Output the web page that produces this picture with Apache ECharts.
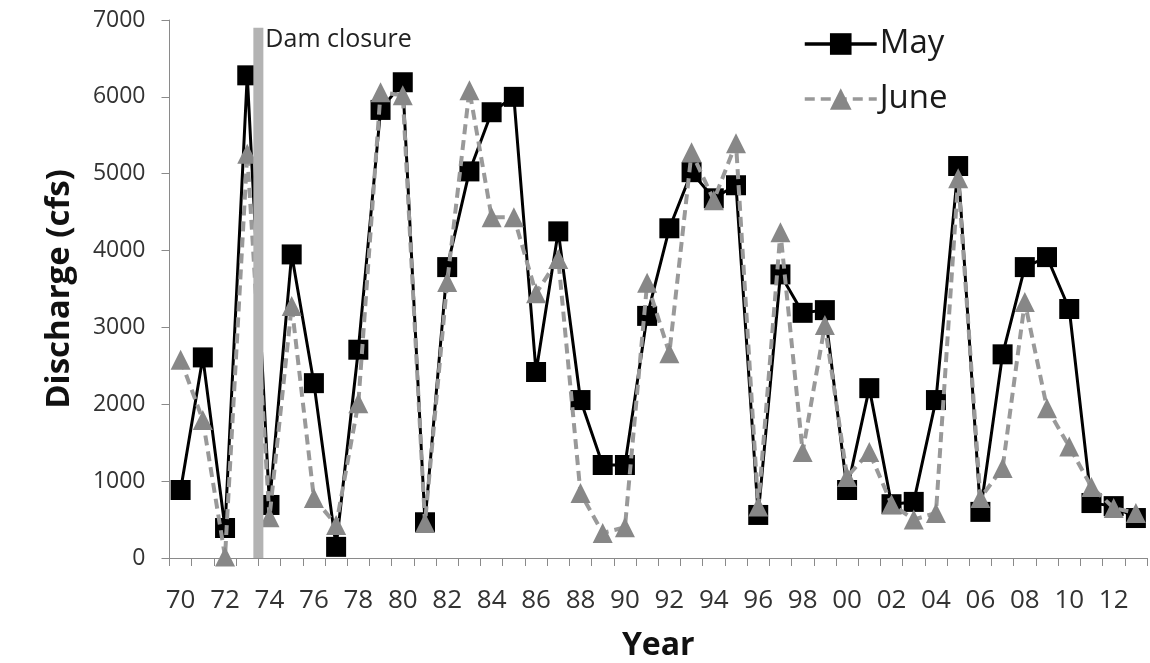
<!DOCTYPE html>
<html>
<head>
<meta charset="utf-8">
<script src="https://cdn.jsdelivr.net/npm/echarts@6/dist/echarts.min.js"></script>
<style>
  html, body { margin: 0; padding: 0; background: #ffffff; }
  #chart { width: 1150px; height: 663px; }
</style>
</head>
<body>
<div id="chart"></div>
<script>
// Water years 1970-2013, shown as two-digit labels
const years = ['70','71','72','73','74','75','76','77','78','79',
               '80','81','82','83','84','85','86','87','88','89',
               '90','91','92','93','94','95','96','97','98','99',
               '00','01','02','03','04','05','06','07','08','09',
               '10','11','12','13'];

// Mean monthly discharge (cfs)
const mayFlow = [885, 2610, 390, 6280, 690, 3950, 2275, 145, 2710, 5830,
                 6190, 465, 3785, 5030, 5800, 6000, 2420, 4250, 2055, 1210,
                 1210, 3150, 4290, 5020, 4680, 4850, 560, 3690, 3190, 3225,
                 885, 2210, 700, 730, 2055, 5100, 600, 2650, 3785, 3915,
                 3240, 715, 675, 520];

const juneFlow = [2580, 1795, 20, 5260, 530, 3280, 780, 430, 2015, 6060,
                  6020, 455, 3590, 6085, 4435, 4435, 3445, 3890, 845, 325,
                  400, 3580, 2665, 5280, 4655, 5395, 670, 4240, 1380, 3030,
                  1055, 1380, 700, 500, 585, 4940, 780, 1170, 3330, 1950,
                  1450, 925, 650, 585];

// Dam closure marker: between the 1973 and 1974 water years
const damClosureYear = 1973.5;
const damLineTop = 6900;

const FONT = 'Open Sans';

const chart = echarts.init(document.getElementById('chart'));

chart.setOption({
  backgroundColor: '#ffffff',
  animation: false,
  textStyle: { fontFamily: FONT },
  grid: { left: 169.5, right: 3, top: 20, bottom: 105, containLabel: false, outerBoundsMode: 'none' },
  legend: {
    data: ['May', 'June'],
    orient: 'vertical',
    left: 798,
    top: 22,
    itemWidth: 72,
    itemHeight: 27,
    itemGap: 21,
    lineStyle: { width: 3.5 },
    textStyle: { fontFamily: FONT, fontSize: 33, color: '#1a1a1a', lineHeight: 34, padding: [0, 0, 0, -2] }
  },
  xAxis: [
    {
      type: 'category',
      data: years,
      boundaryGap: true,
      name: 'Year',
      nameLocation: 'middle',
      nameGap: 72,
      nameTextStyle: { fontFamily: FONT, fontSize: 32, fontWeight: 'bold', color: '#111111' },
      axisLine: { lineStyle: { color: '#8a8a8a', width: 1 } },
      axisTick: { show: true, interval: 0, length: 8, inside: false, lineStyle: { color: '#8a8a8a' } },
      axisLabel: { interval: 1, margin: 30, fontFamily: FONT, fontSize: 26, color: '#333333' },
      splitLine: { show: false }
    },
    {
      type: 'value',
      min: 1969.5,
      max: 2013.5,
      show: false
    }
  ],
  yAxis: {
    type: 'value',
    min: 0,
    max: 7000,
    interval: 1000,
    name: 'Discharge (cfs)',
    nameLocation: 'middle',
    nameRotate: 90,
    nameGap: 93,
    nameTextStyle: { fontFamily: FONT, fontSize: 33, fontWeight: 'bold', color: '#111111' },
    axisLine: { show: true, lineStyle: { color: '#8a8a8a', width: 1 } },
    axisTick: { show: true, length: 8, inside: false, lineStyle: { color: '#8a8a8a' } },
    axisLabel: {
      margin: 24,
      fontFamily: FONT,
      fontSize: 23,
      color: '#333333',
      formatter: function (v) { return String(v); }
    },
    splitLine: { show: false }
  },
  series: [
    {
      name: 'May',
      type: 'line',
      xAxisIndex: 0,
      data: mayFlow,
      symbol: 'rect',
      symbolSize: 20,
      showAllSymbol: true,
      itemStyle: { color: '#000000' },
      lineStyle: { color: '#000000', width: 3 },
      z: 2
    },
    {
      name: 'June',
      type: 'line',
      xAxisIndex: 0,
      data: juneFlow,
      symbol: 'triangle',
      symbolSize: 20,
      showAllSymbol: true,
      itemStyle: { color: '#878787' },
      lineStyle: { color: '#999999', width: 4, type: [10, 6] },
      z: 3
    },
    {
      name: 'Dam closure',
      type: 'line',
      xAxisIndex: 1,
      data: [[damClosureYear, 0], [damClosureYear, damLineTop]],
      symbol: 'none',
      lineStyle: { color: '#b3b3b3', width: 10 },
      silent: true,
      z: 4,
      label: { show: false },
      endLabel: {
        show: true,
        formatter: 'Dam closure',
        fontFamily: FONT,
        fontSize: 25,
        color: '#222222',
        distance: 2,
        offset: [5, 12]
      }
    }
  ]
});
</script>
</body>
</html>
